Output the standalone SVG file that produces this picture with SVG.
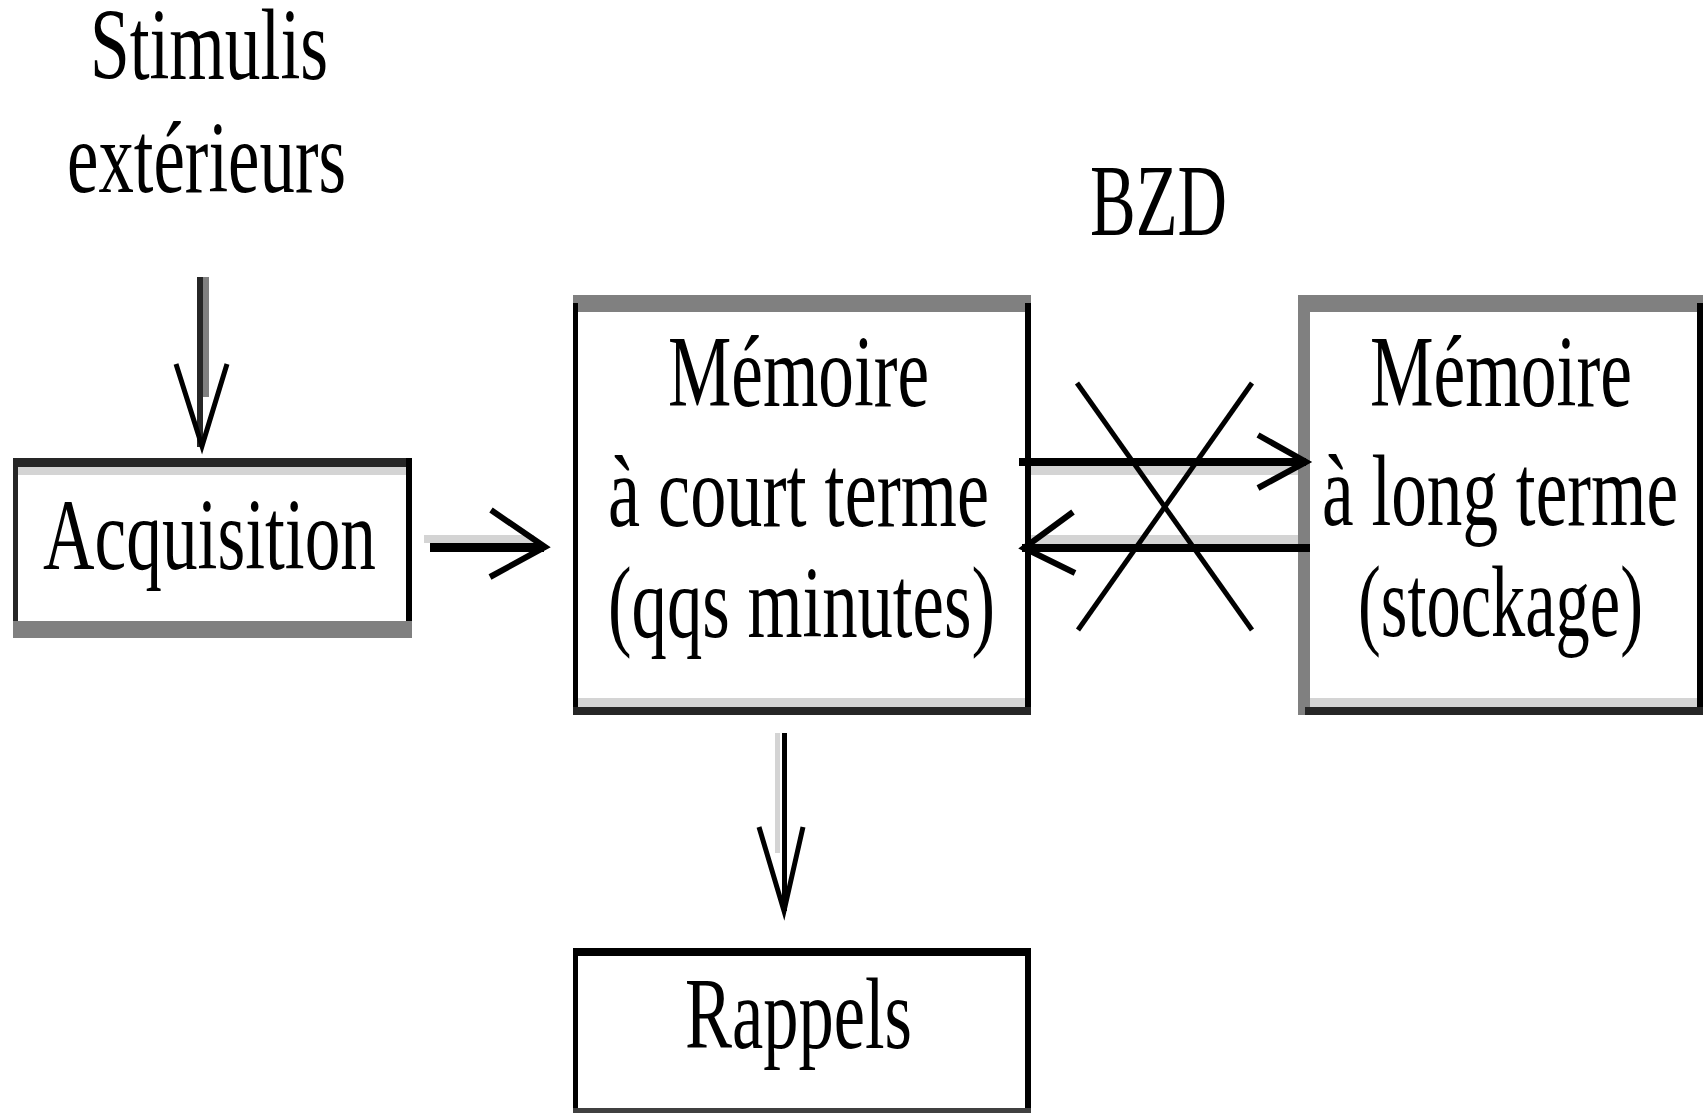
<svg xmlns="http://www.w3.org/2000/svg" width="1707" height="1113" viewBox="0 0 1707 1113">
<style>
text{font-family:"Liberation Serif","Times New Roman",serif;font-size:102px;fill:#000;lengthAdjust:spacingAndGlyphs}
.dk{fill:#000}
.d2{fill:#262626}
.gr{fill:#808080}
.lt{fill:#d4d4d4}
.ln{fill:none;stroke:#000;stroke-width:5;stroke-linecap:butt;stroke-linejoin:miter}
.hd{fill:none;stroke:#000;stroke-width:6;stroke-linejoin:miter}
</style>
<rect width="1707" height="1113" fill="#fff"/>

<g id="stimulis">
<text x="90" y="79" textLength="238" lengthAdjust="spacingAndGlyphs">Stimulis</text>
<text x="67" y="192" textLength="279" lengthAdjust="spacingAndGlyphs">extérieurs</text>
</g>

<g id="bzd">
<text x="1090" y="235" textLength="137" lengthAdjust="spacingAndGlyphs">BZD</text>
</g>

<g id="acquisition">
<rect class="d2" x="13" y="458" width="399" height="9"/>
<rect class="lt" x="18" y="467" width="388" height="8"/>
<rect class="d2" x="13" y="458" width="5" height="172"/>
<rect class="dk" x="406" y="458" width="6" height="172"/>
<rect class="gr" x="13" y="621" width="399" height="17"/>
<text x="43" y="569" textLength="333" lengthAdjust="spacingAndGlyphs">Acquisition</text>
</g>

<g id="memoire-court">
<rect class="gr" x="573" y="295" width="458" height="17"/>
<rect class="dk" x="573" y="303" width="5" height="412"/>
<rect class="dk" x="1025" y="303" width="6" height="412"/>
<rect class="lt" x="578" y="698" width="447" height="9"/>
<rect class="d2" x="573" y="707" width="458" height="8"/>
<text x="668" y="406" textLength="261" lengthAdjust="spacingAndGlyphs">Mémoire</text>
<text x="608" y="526" textLength="381" lengthAdjust="spacingAndGlyphs">à court terme</text>
<text x="608" y="637" textLength="387" lengthAdjust="spacingAndGlyphs">(qqs minutes)</text>
</g>

<g id="memoire-long">
<rect class="gr" x="1298" y="295" width="405" height="17"/>
<rect class="gr" x="1298" y="295" width="12" height="420"/>
<rect class="dk" x="1697" y="303" width="6" height="412"/>
<rect class="lt" x="1310" y="698" width="387" height="9"/>
<rect class="d2" x="1305" y="707" width="398" height="8"/>
<text x="1370" y="406" textLength="262" lengthAdjust="spacingAndGlyphs">Mémoire</text>
<text x="1322" y="525" textLength="356" lengthAdjust="spacingAndGlyphs">à long terme</text>
<text x="1358" y="636" textLength="285" lengthAdjust="spacingAndGlyphs">(stockage)</text>
</g>

<g id="rappels">
<rect class="dk" x="573" y="948" width="458" height="8"/>
<rect class="dk" x="573" y="948" width="5" height="162"/>
<rect class="dk" x="1025" y="948" width="6" height="162"/>
<rect fill="#404040" x="573" y="1108" width="458" height="5"/>
<text x="685" y="1048" textLength="227" lengthAdjust="spacingAndGlyphs">Rappels</text>
</g>

<g id="connectors">
<!-- stimulis -> acquisition -->
<rect class="d2" x="197" y="277" width="6" height="170"/>
<rect class="gr" x="203" y="277" width="6" height="120"/>
<polyline class="ln" points="176,364 202,446 227,364"/>
<!-- acquisition -> memoire court -->
<rect class="lt" x="424" y="535" width="110" height="8"/>
<rect class="dk" x="430" y="543" width="114" height="9"/>
<polyline class="hd" points="491,510 545,547 490,577"/>
<!-- court -> long -->
<rect class="dk" x="1019" y="458" width="287" height="8"/>
<rect class="lt" x="1031" y="466" width="267" height="9"/>
<polyline class="hd" points="1258,435 1306,462 1258,488"/>
<!-- long -> court -->
<rect class="lt" x="1031" y="535" width="267" height="9"/>
<rect class="dk" x="1022" y="544" width="288" height="8"/>
<polyline class="hd" points="1073,512 1024,548 1075,573"/>
<!-- cross (blocked) -->
<line class="ln" x1="1077" y1="383" x2="1252" y2="630"/>
<line class="ln" x1="1252" y1="383" x2="1078" y2="630"/>
<!-- court -> rappels -->
<rect class="lt" x="775" y="733" width="5" height="120"/>
<rect class="dk" x="782" y="733" width="5" height="178"/>
<polyline class="ln" points="759,827 784,911 803,827"/>
</g>
</svg>
